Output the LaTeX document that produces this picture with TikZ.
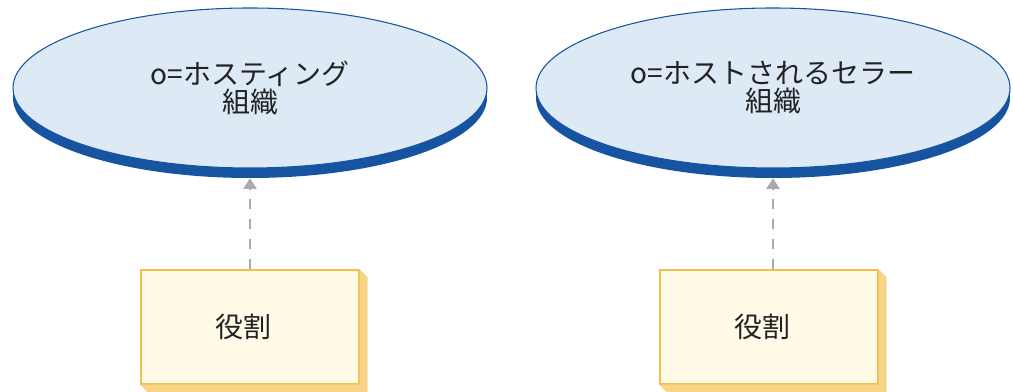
\documentclass[tikz,border=0pt]{standalone}
\usepackage{fontspec}
\setmainfont{Noto Sans CJK JP}
\usepackage{xcolor}
\usepackage{tikz}
\usetikzlibrary{arrows.meta, positioning, shapes.geometric, calc}
\definecolor{orgfill}{HTML}{DDEAF6}
\definecolor{orgblue}{HTML}{1654A2}
\definecolor{rolefill}{HTML}{FFFBE6}
\definecolor{roleline}{HTML}{F4BE4E}
\definecolor{roleshade}{HTML}{F8D488}
\definecolor{linkgray}{HTML}{ABABAF}
\definecolor{textdark}{HTML}{222222}

\begin{document}
\begin{tikzpicture}[x=0.75pt, y=0.75pt,
    every node/.style={font=\fontsize{21pt}{21pt}\selectfont, text=textdark},
    orgtop/.style={ellipse, draw=orgblue, line width=0.8pt, fill=orgfill,
        minimum width=355.5pt, minimum height=120pt, inner sep=0pt, align=center},
    orgbase/.style={ellipse, fill=orgblue,
        minimum width=355.5pt, minimum height=120pt, inner sep=0pt},
    rolebox/.style={rectangle, draw=roleline, line width=1pt, fill=rolefill,
        minimum width=163.5pt, minimum height=85.5pt},
    link/.style={-{Triangle[width=10pt, length=8pt]}, draw=linkgray, fill=linkgray,
        line width=1.1pt, dash pattern=on 7.5pt off 7.5pt}]
    \useasboundingbox (0,0) rectangle (1013,392);

    \node[orgbase] (base1) at (250,294) {};
    \node[orgtop] (org1) at (250,304) {o=ホスティング\\組織};
    \node[orgbase] (base2) at (773,294) {};
    \node[orgtop] (org2) at (773,304) {o=ホストされるセラー\\組織};

    \node[rolebox, below=68.25pt of base1] (role1) {役割\hspace*{10pt}};
    \node[rolebox, below=68.25pt of base2, xshift=-3pt] (role2) {役割\hspace*{10pt}};

    % 3D edge of the role boxes
    \foreach \r in {role1, role2} {
        \fill[roleshade] (\r.north east) -- ++(6pt,-6pt) -- ($(\r.south east)+(6pt,-6pt)$)
            -- ($(\r.south west)+(6pt,-6pt)$) -- (\r.south west) -- (\r.south east) -- cycle;
    }

    \draw[link] (role1) -- (base1);
    \draw[link] (role2.north -| base2) -- (base2);
\end{tikzpicture}
\end{document}
